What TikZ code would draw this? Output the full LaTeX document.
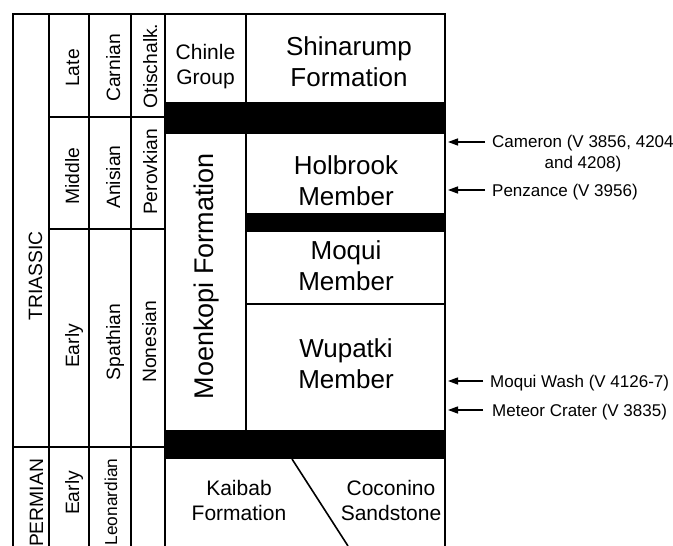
\documentclass[tikz,border=0pt]{standalone}
\usepackage{fontspec}
\setmainfont{Liberation Sans}
\usetikzlibrary{arrows.meta}

\begin{document}
\begin{tikzpicture}[x=1pt,y=-1pt,
  grid/.style={line width=2pt},
  band/.style={fill=black},
  lab/.style={inner sep=0pt, font=\fontsize{19.3}{23}\selectfont, rotate=90, anchor=base},
  big/.style={inner sep=0pt, align=center, font=\fontsize{26}{31}\selectfont},
  mid/.style={inner sep=0pt, align=center, font=\fontsize{21}{25}\selectfont},
  loc/.style={inner sep=0pt, font=\fontsize{17}{21}\selectfont},
  arr/.style={line width=1.3pt, -{Triangle[length=10pt,width=7pt]}}
]
\useasboundingbox (0,0) rectangle (673,546);

% black bands
\fill[band] (165,102) rectangle (445,134);
\fill[band] (246,213) rectangle (445,232);
\fill[band] (165,430) rectangle (445,459);

% frame and grid
\draw[grid] (13,546) -- (13,14) -- (445,14) -- (445,546);
\draw[grid] (49,14) -- (49,546);
\draw[grid] (89,14) -- (89,546);
\draw[grid] (131,14) -- (131,546);
\draw[grid] (165,14) -- (165,546);
\draw[grid] (246,14) -- (246,102);
\draw[grid] (246,134) -- (246,430);
\draw[grid] (49,117) -- (165,117);
\draw[grid] (49,229) -- (165,229);
\draw[grid] (13,447) -- (165,447);
\draw[grid] (246,304) -- (445,304);
\draw[line width=1.6pt] (292,459) -- (348,546);

% rotated labels
\node[lab] (triassic) at (42,276) {TRIASSIC};
\node[lab] (permian) at (43,503) {PERMIAN};
\node[lab] (late) at (79,68) {Late};
\node[lab] (middle) at (79,176) {Middle};
\node[lab] (early) at (79,346) {Early};
\node[lab] (earlyp) at (79,493) {Early};
\node[lab] (carnian) at (120,68) {Carnian};
\node[lab] (anisian) at (120,177) {Anisian};
\node[lab] (spathian) at (120,342) {Spathian};
\node[lab, font=\fontsize{17.3}{20}\selectfont] (leonardian) at (117,502) {Leonardian};
\node[lab] (otischalk) at (157,66) {Otischalk.};
\node[lab] (perovkian) at (157,172) {Perovkian};
\node[lab] (nonesian) at (156,342) {Nonesian};
\node[lab, font=\fontsize{27}{30}\selectfont] (moenkopi) at (213,276) {Moenkopi Formation};

% horizontal labels
\node[mid] (chinle) at (205.5,67) {Chinle\\Group};
\node[big] (shinarump) at (349,62) {Shinarump\\Formation};
\node[big] (holbrook) at (346,181) {Holbrook\\Member};
\node[big] (moqui) at (346,265.5) {Moqui\\Member};
\node[big] (wupatki) at (346,364) {Wupatki\\Member};
\node[mid] (kaibab) at (239,500) {Kaibab\\Formation};
\node[mid] (coconino) at (391,500) {Coconino\\Sandstone};

% locality labels
\node[loc, anchor=north west, align=center] (cameron) at (492,134.5) {Cameron (V 3856, 4204\\and 4208)};
\node[loc, anchor=base west] (penzance) at (492,196) {Penzance (V 3956)};
\node[loc, anchor=base west] (moquiwash) at (490,387) {Moqui Wash (V 4126-7)};
\node[loc, anchor=base west] (meteor) at (492,416) {Meteor Crater (V 3835)};

% arrows
\coordinate (t1) at (485,142); \coordinate (h1) at (448,142);
\coordinate (t2) at (485,190); \coordinate (h2) at (448,190);
\coordinate (t3) at (483,381); \coordinate (h3) at (448,381);
\coordinate (t4) at (483,410); \coordinate (h4) at (448,410);
\draw[arr] (t1) -- (h1);
\draw[arr] (t2) -- (h2);
\draw[arr] (t3) -- (h3);
\draw[arr] (t4) -- (h4);
\end{tikzpicture}
\end{document}
